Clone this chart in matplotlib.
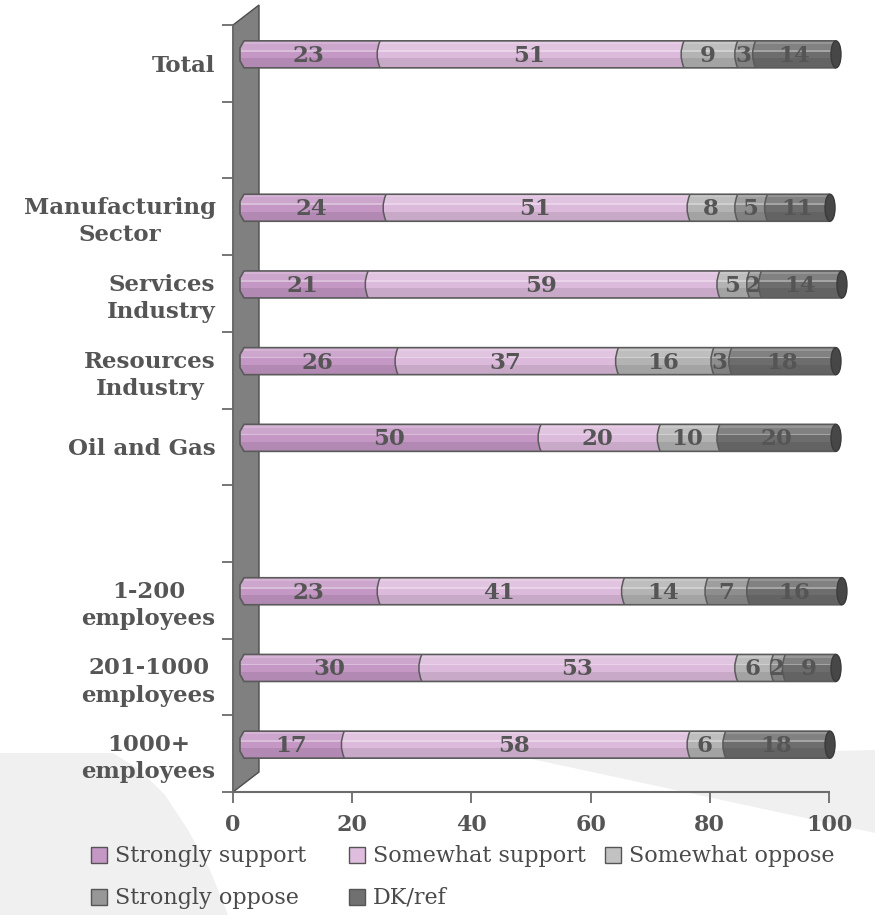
import numpy as np
import matplotlib
matplotlib.use('Agg')
import matplotlib.pyplot as plt
from matplotlib.patches import Polygon, Rectangle, Ellipse, PathPatch
from matplotlib.path import Path
from matplotlib.colors import to_rgb

categories = ['Total', 'Manufacturing\nSector', 'Services\nIndustry', 'Resources\nIndustry',
              'Oil and Gas', '1-200\nemployees', '201-1000\nemployees', '1000+\nemployees']
series = ['Strongly support', 'Somewhat support', 'Somewhat oppose', 'Strongly oppose', 'DK/ref']
strongly_support = [23, 24, 21, 26, 50, 23, 30, 17]
somewhat_support = [51, 51, 59, 37, 20, 41, 53, 58]
somewhat_oppose = [9, 8, 5, 16, 10, 14, 6, 6]
strongly_oppose = [3, 5, 2, 3, 0, 7, 2, 0]
dk_ref = [14, 11, 14, 18, 20, 16, 9, 18]
x_ticks = [0, 20, 40, 60, 80, 100]

# row slot of each category (empty slots at 1 and 6)
slots = [0, 2, 3, 4, 5, 7, 8, 9]
n_slots = 10

colors = ['#c497c4', '#dcbadb', '#b3b3b3', '#8e8e8e', '#6d6d6d']
legend_colors = ['#c597c5', '#dfbddf', '#c2c2c2', '#979797', '#707070']
text_c = '#555555'
line_c = '#6b6b6b'

W, H = 875, 915
fig = plt.figure(figsize=(W / 100, H / 100), dpi=100)


def fig_xy(x, y):
    return x / W, 1 - y / H


# light background swoosh of the slide
left_bg = [(0, 753), (113, 753), (140, 770), (165, 795), (188, 830), (210, 870), (228, 915), (0, 915)]
right_bg = [(527, 758), (875, 750), (875, 833)]
for pts in (left_bg, right_bg):
    fig.patches.append(Polygon([fig_xy(x, y) for x, y in pts], closed=True,
                               transform=fig.transFigure, fc='#f0f0f0', ec='none', zorder=-1))

ax = fig.add_axes([233 / W, 1 - 792 / H, 596 / W, 767 / H])
ax.patch.set_alpha(0)
ax.set_xlim(0, 100)
ax.set_ylim(n_slots, 0)

px = 100 / 596        # data units per pixel, x
py = n_slots / 767    # data units per pixel, y

# the 3D side wall
wall = Polygon([(0, n_slots), (26 * px, n_slots - 20 * py), (26 * px, -20 * py), (0, 0)],
               closed=True, fc='#808080', ec='#4d4d4d', lw=1, clip_on=False, zorder=1)
ax.add_patch(wall)


def shade(c, f):
    r = np.array(to_rgb(c))
    if f > 0:
        return tuple(r + (1 - r) * f)
    return tuple(r * (1 + f))


bands = [(0.0, 0.12, 0.28), (0.12, 0.34, 0.14), (0.34, 0.40, 0.38), (0.40, 0.64, 0.0), (0.64, 1.0, -0.09)]

dx = 7 * px
dy = -9 * py
hh = 13.5 * py
cv = 3 * px
bev_x, bev_y = 4 * px, 7 * py

values = [strongly_support, somewhat_support, somewhat_oppose, strongly_oppose, dk_ref]

for row, slot in enumerate(slots):
    yc = slot + 0.5 + dy
    top, bot = yc - hh, yc + hh
    segs = []
    start = 0
    for k in range(len(series)):
        v = values[k][row]
        if v > 0:
            segs.append((start + dx, start + v + dx, k, v))
        start += v
    end = start + dx

    for i, (a, b, k, v) in enumerate(segs):
        right = b if i == len(segs) - 1 else b + cv
        if i == 0:
            verts = [(a + bev_x, top), (right, top), (right, bot), (a + bev_x, bot),
                     (a, bot - bev_y), (a, top + bev_y), (a + bev_x, top)]
            codes = [Path.MOVETO, Path.LINETO, Path.LINETO, Path.LINETO,
                     Path.LINETO, Path.LINETO, Path.CLOSEPOLY]
        else:
            verts = [(a + cv, top), (right, top), (right, bot), (a + cv, bot),
                     (a - cv, yc), (a + cv, top), (a + cv, top)]
            codes = [Path.MOVETO, Path.LINETO, Path.LINETO, Path.LINETO,
                     Path.CURVE3, Path.CURVE3, Path.CLOSEPOLY]
        seg = PathPatch(Path(verts, codes), fc=colors[k], ec='none', zorder=3, clip_on=False)
        ax.add_patch(seg)
        for f0, f1, f in bands:
            strip = Rectangle((a - cv, top + f0 * 2 * hh), right - a + 2 * cv, (f1 - f0) * 2 * hh,
                              fc=shade(colors[k], f), ec='none', zorder=3)
            ax.add_patch(strip)
            strip.set_clip_box(None)
            strip.set_clip_path(seg)
        if i > 0:
            sep = Path([(a + cv, bot), (a - cv, yc), (a + cv, top)],
                       [Path.MOVETO, Path.CURVE3, Path.CURVE3])
            ax.add_patch(PathPatch(sep, fc='none', ec='#5a5a5a', lw=1.1, zorder=4, clip_on=False))
        ax.text((a + b) / 2, yc + 1.5 * py, str(v), ha='center', va='center',
                fontsize=16.5, fontweight='bold', family='DejaVu Serif', color=text_c, zorder=6)

    # outline of the bar and dark end cap
    a0 = segs[0][0]
    outline = Path([(end, top), (a0 + bev_x, top), (a0, top + bev_y), (a0, bot - bev_y),
                    (a0 + bev_x, bot), (end, bot)])
    ax.add_patch(PathPatch(outline, fc='none', ec='#5a5a5a', lw=1.2, zorder=4, clip_on=False))
    ax.add_patch(Ellipse((end, yc), 10 * px, 2 * hh, fc='#474747', ec='#3a3a3a', lw=1,
                         zorder=5, clip_on=False))

# axes, ticks and labels
for s in ['top', 'right']:
    ax.spines[s].set_visible(False)
ax.spines['left'].set_color(line_c)
ax.spines['bottom'].set_color(line_c)
ax.spines['left'].set_linewidth(1.3)
ax.spines['bottom'].set_linewidth(1.5)

ax.set_xticks(x_ticks)
ax.set_xticklabels([str(t) for t in x_ticks], fontsize=16, fontweight='bold',
                   family='DejaVu Serif', color=text_c)
ax.tick_params(axis='x', length=8, width=1.3, color=line_c, pad=8)

ax.set_yticks(np.arange(n_slots + 1))
ax.set_yticklabels([])
ax.tick_params(axis='y', which='major', length=8, width=1.3, color=line_c)
ax.set_yticks([s + 0.5 for s in slots], minor=True)
ax.set_yticklabels(categories, minor=True, fontsize=16.5, fontweight='bold',
                   family='DejaVu Serif', color=text_c, multialignment='center', linespacing=1.3)
ax.tick_params(axis='y', which='minor', length=0, pad=12.5)

# legend, laid out row by row as in the original
legend_pos = [(91, 855), (349, 855), (605, 855), (91, 897), (349, 897)]
for k, (lx, ly) in enumerate(legend_pos):
    x0, y0 = fig_xy(lx, ly + 8)
    fig.patches.append(Rectangle((x0, y0), 16 / W, 16 / H, transform=fig.transFigure,
                                 fc=legend_colors[k], ec='#555555', lw=1))
    tx, ty = fig_xy(lx + 24, ly + 7)
    fig.text(tx, ty, series[k], ha='left', va='baseline', fontsize=16,
             family='DejaVu Serif', color='#4a4a4a')

fig.savefig('out.png', dpi=100)
